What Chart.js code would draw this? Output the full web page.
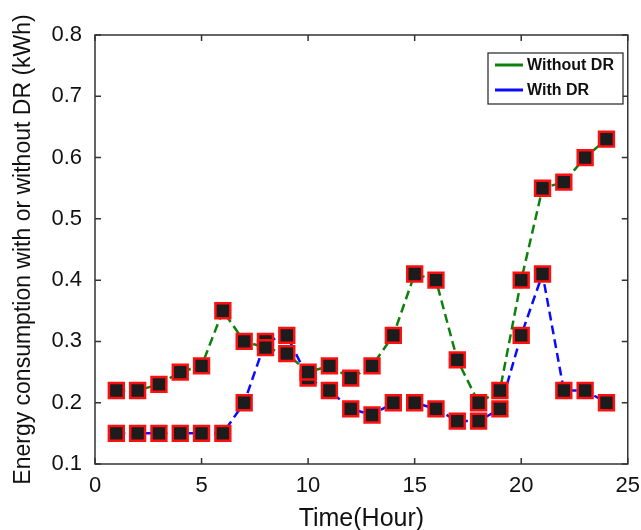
<!DOCTYPE html>
<html>
<head>
<meta charset="utf-8">
<script src="https://cdn.jsdelivr.net/npm/chart.js@4.4.1/dist/chart.umd.min.js"></script>
<style>
  html, body { margin: 0; padding: 0; background: #fff; }
  #wrap { width: 641px; height: 530px; }
</style>
</head>
<body>
<div id="wrap"><canvas id="chartDR" width="641" height="530"></canvas></div>
<script>
// --- data ---
const hours = [1, 2, 3, 4, 5, 6, 7, 8, 9, 10, 11, 12, 13, 14, 15, 16, 17, 18, 19, 20, 21, 22, 23, 24];
const withoutDR = [0.22, 0.22, 0.23, 0.25, 0.26, 0.35, 0.30, 0.29, 0.28, 0.25, 0.26, 0.24,
                   0.26, 0.31, 0.41, 0.40, 0.27, 0.20, 0.22, 0.40, 0.55, 0.56, 0.60, 0.63];
const withDR = [0.15, 0.15, 0.15, 0.15, 0.15, 0.15, 0.20, 0.30, 0.31, 0.24, 0.22, 0.19,
                0.18, 0.20, 0.20, 0.19, 0.17, 0.17, 0.19, 0.31, 0.41, 0.22, 0.22, 0.20];
const seriesLabels = ['Without DR', 'With DR'];
const xTicks = [0, 5, 10, 15, 20, 25];
const yTicks = [0.1, 0.2, 0.3, 0.4, 0.5, 0.6, 0.7, 0.8];

const COLORS = {
    green: '#0b800b',
    blue: '#0a0aff',
    marker: '#ff1010',
    markerFill: '#1c1c1c',
    axis: '#333333',
    text: '#111111'
};
const FONT = "Arial, 'Liberation Sans', sans-serif";

const toPoints = (vals) => vals.map((v, i) => ({ x: hours[i], y: v }));

function lineSet(label, vals, color) {
    return {
        label: label,
        data: toPoints(vals),
        borderColor: color,
        borderWidth: 2.5,
        borderDash: [9, 5],
        tension: 0,
        fill: false,
        pointStyle: 'rect',
        pointRadius: 10.5,
        pointBorderWidth: 2.5,
        pointBorderColor: COLORS.marker,
        pointBackgroundColor: COLORS.markerFill
    };
}

// Box around plot area with MATLAB-style inward ticks on all sides
const boxPlugin = {
    id: 'boxTicks',
    beforeDatasetsDraw(chart) {
        const { ctx, chartArea: a, scales: { x, y } } = chart;
        const len = 6;
        ctx.save();
        ctx.strokeStyle = COLORS.axis;
        ctx.lineWidth = 1.5;
        ctx.strokeRect(a.left, a.top, a.right - a.left, a.bottom - a.top);
        ctx.beginPath();
        xTicks.forEach(t => {
            const px = x.getPixelForValue(t);
            ctx.moveTo(px, a.bottom); ctx.lineTo(px, a.bottom - len);
            ctx.moveTo(px, a.top); ctx.lineTo(px, a.top + len);
        });
        yTicks.forEach(t => {
            const py = y.getPixelForValue(t);
            ctx.moveTo(a.left, py); ctx.lineTo(a.left + len, py);
            ctx.moveTo(a.right, py); ctx.lineTo(a.right - len, py);
        });
        ctx.stroke();
        ctx.restore();
    }
};

// Legend box inside the plot, top right
const legendPlugin = {
    id: 'boxLegend',
    afterDraw(chart) {
        const { ctx } = chart;
        const bx = 488, by = 53, bw = 135, bh = 51;
        ctx.save();
        ctx.fillStyle = '#fff';
        ctx.fillRect(bx, by, bw, bh);
        ctx.strokeStyle = '#222';
        ctx.lineWidth = 1.2;
        ctx.strokeRect(bx, by, bw, bh);
        ctx.font = 'bold 16px ' + FONT;
        ctx.textBaseline = 'middle';
        chart.data.datasets.forEach((ds, i) => {
            const ly = by + 12 + i * 25;
            ctx.strokeStyle = ds.borderColor;
            ctx.lineWidth = 3;
            ctx.beginPath();
            ctx.moveTo(bx + 7, ly); ctx.lineTo(bx + 35, ly);
            ctx.stroke();
            ctx.fillStyle = COLORS.text;
            ctx.fillText(ds.label, bx + 39, ly + 1);
        });
        ctx.restore();
    }
};

new Chart(document.getElementById('chartDR'), {
    type: 'line',
    data: {
        datasets: [
            lineSet(seriesLabels[0], withoutDR, COLORS.green),
            lineSet(seriesLabels[1], withDR, COLORS.blue)
        ]
    },
    options: {
        responsive: false,
        animation: false,
        devicePixelRatio: 1,
        layout: { padding: { top: 35, right: 4, left: 0, bottom: 0 } },
        plugins: { legend: { display: false }, tooltip: { enabled: false } },
        scales: {
            x: {
                type: 'linear',
                min: 0, max: 25,
                grid: { display: false },
                border: { display: false },
                afterBuildTicks: (s) => { s.ticks = xTicks.map(v => ({ value: v })); },
                afterFit: (s) => { s.height = 66; },
                ticks: {
                    padding: 1,
                    color: COLORS.text,
                    font: { family: FONT, size: 22 },
                    maxRotation: 0,
                    callback: (v) => String(v)
                },
                title: {
                    display: true,
                    text: 'Time(Hour)',
                    color: COLORS.text,
                    font: { family: FONT, size: 25 },
                    padding: { top: 0, bottom: -4 }
                }
            },
            y: {
                min: 0.1, max: 0.8,
                grid: { display: false },
                border: { display: false },
                afterBuildTicks: (s) => { s.ticks = yTicks.map(v => ({ value: v })); },
                afterFit: (s) => { s.width = 95; },
                ticks: {
                    padding: 5,
                    color: COLORS.text,
                    font: { family: FONT, size: 22 },
                    callback: (v) => Number(v).toFixed(1)
                },
                title: {
                    display: true,
                    text: 'Energy consumption with or without DR (kWh)',
                    color: COLORS.text,
                    font: { family: FONT, size: 23 },
                    padding: { top: 10, bottom: 0 }
                }
            }
        }
    },
    plugins: [boxPlugin, legendPlugin]
});
</script>
</body>
</html>
